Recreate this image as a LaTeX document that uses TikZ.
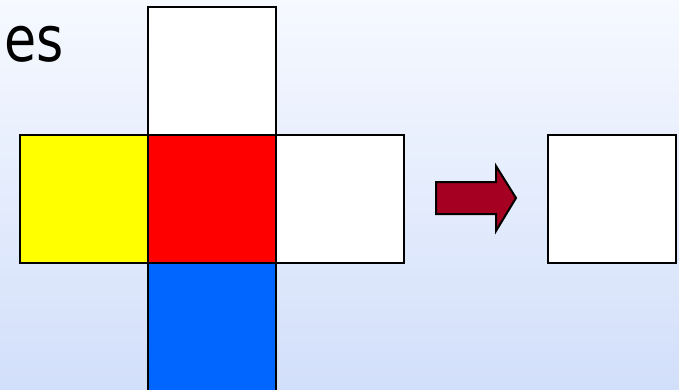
\documentclass[tikz,border=0pt]{standalone}
\usepackage{fontspec}
\setmainfont{DejaVu Sans}
\definecolor{bgtop}{HTML}{F6F9FF}
\definecolor{bgbot}{HTML}{D2DFFA}
\definecolor{cyel}{HTML}{FFFF00}
\definecolor{cred}{HTML}{FF0000}
\definecolor{cblue}{HTML}{0066FF}
\definecolor{carrow}{HTML}{A50021}
\begin{document}
\begin{tikzpicture}[x=1pt,y=-1pt,
  face/.style={draw=black,line width=2pt,minimum size=128pt,inner sep=0pt,outer sep=0pt,anchor=north west}]
\useasboundingbox (0,0) rectangle (679,390);
\shade[top color=bgtop,bottom color=bgbot] (0,0) rectangle (679,390);
\begin{scope}
\clip (0,0) rectangle (679,390);
\node[anchor=base west,font=\fontsize{63}{65}\selectfont,inner sep=0pt] (txt) at (4,62) {\scalebox{0.83}[1]{es}};
\node[face,fill=white] (top) at (148,7) {};
\node[face,fill=cyel] (left) at (20,135) {};
\node[face,fill=cred] (mid) at (148,135) {};
\node[face,fill=white] (right) at (276,135) {};
\node[face,fill=cblue] (bot) at (148,263) {};
\node[face,fill=white] (res) at (548,135) {};
\draw[line width=2pt,fill=carrow,line join=miter]
  (436,182) -- (496,182) -- (496,166) -- (516,198) -- (496,231) -- (496,214) -- (436,214) -- cycle;
\end{scope}
\end{tikzpicture}
\end{document}
